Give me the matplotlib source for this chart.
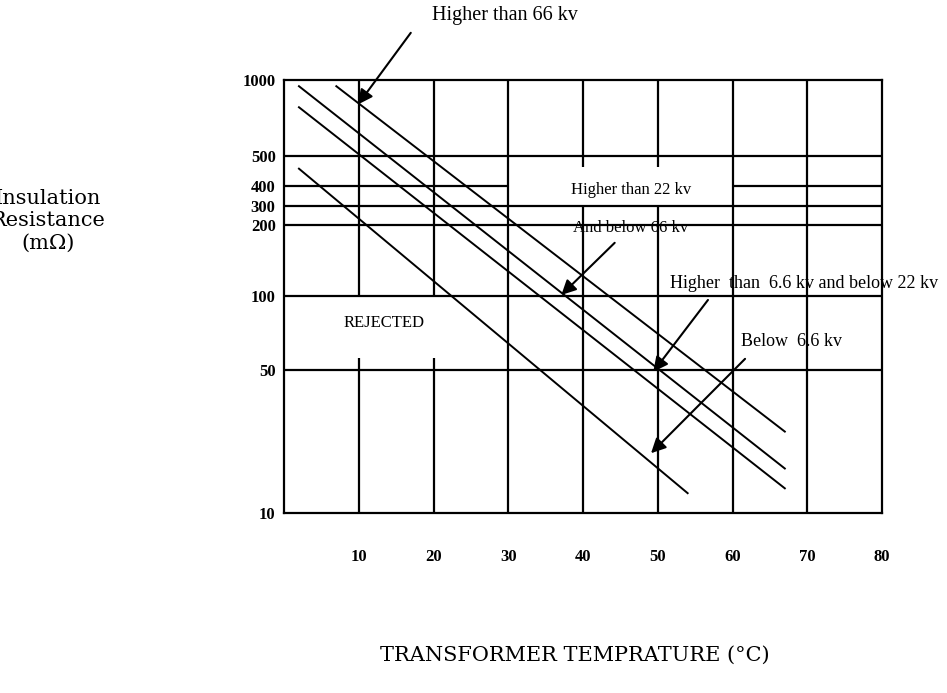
import numpy as np
import matplotlib.pyplot as plt
from matplotlib.ticker import FixedLocator, NullLocator

# Data
temp_ticks = [10, 20, 30, 40, 50, 60, 70, 80]
res_ticks = [10, 50, 100, 200, 300, 400, 500, 1000]

# the printed y axis is only roughly logarithmic: spacing of the printed grid (px from bottom)
scale_pos = [0, 143, 217, 288, 307, 327, 357, 433]

# the four limit lines (temperature in C, resistance in mOhm at both ends)
temp_66 = [7, 67]
res_66 = [945, 25]
temp_22_66 = [2, 67]
res_22_66 = [945, 16.5]
temp_66_22 = [2, 67]
res_66_22 = [780, 13.2]
temp_below = [2, 54]
res_below = [455, 12.5]

# partial grid lines: (value, [(start, end), ...])
vgrid = [
    (10, [(10, 56), (100, 1000)]),
    (20, [(10, 56), (100, 1000)]),
    (30, [(10, 1000)]),
    (40, [(10, 300), (460, 1000)]),
    (50, [(10, 300), (460, 1000)]),
    (60, [(10, 1000)]),
    (70, [(10, 1000)]),
]
hgrid = [
    (500, [(0, 80)]),
    (400, [(0, 30), (60, 80)]),
    (300, [(0, 80)]),
    (200, [(0, 80)]),
    (100, [(0, 80)]),
    (50, [(0, 80)]),
]

lg = np.log10(res_ticks)
pos = np.array(scale_pos, float)


def forward(v):
    lv = np.log10(np.maximum(np.asarray(v, float), 1e-9))
    out = np.interp(lv, lg, pos)
    lo_slope = (pos[1] - pos[0]) / (lg[1] - lg[0])
    hi_slope = (pos[-1] - pos[-2]) / (lg[-1] - lg[-2])
    out = np.where(lv < lg[0], pos[0] + (lv - lg[0]) * lo_slope, out)
    out = np.where(lv > lg[-1], pos[-1] + (lv - lg[-1]) * hi_slope, out)
    return out


def inverse(p):
    p = np.asarray(p, float)
    out = np.interp(p, pos, lg)
    lo_slope = (lg[1] - lg[0]) / (pos[1] - pos[0])
    hi_slope = (lg[-1] - lg[-2]) / (pos[-1] - pos[-2])
    out = np.where(p < pos[0], lg[0] + (p - pos[0]) * lo_slope, out)
    out = np.where(p > pos[-1], lg[-1] + (p - pos[-1]) * hi_slope, out)
    return 10 ** out


serif = 'Liberation Serif'

fig = plt.figure(figsize=(9.47, 6.93), dpi=100)
ax = fig.add_axes([284 / 947, 1 - 513 / 693, 598 / 947, 433 / 693])
ax.set_yscale('function', functions=(forward, inverse))
ax.set_xlim(0, 80)
ax.set_ylim(10, 1000)

# grid
for x, spans in vgrid:
    for y0, y1 in spans:
        ax.vlines(x, y0, y1, color='black', lw=1.6)
for y, spans in hgrid:
    for x0, x1 in spans:
        ax.hlines(y, x0, x1, color='black', lw=1.6)

# limit lines
for t, r in [(temp_66, res_66), (temp_22_66, res_22_66),
             (temp_66_22, res_66_22), (temp_below, res_below)]:
    ax.plot(t, r, color='black', lw=1.4)

for s in ax.spines.values():
    s.set_linewidth(1.6)

ax.xaxis.set_major_locator(FixedLocator(temp_ticks))
ax.yaxis.set_major_locator(FixedLocator(res_ticks))
ax.yaxis.set_minor_locator(NullLocator())
ax.xaxis.set_minor_locator(NullLocator())
ax.set_xticklabels([str(t) for t in temp_ticks], family=serif, fontsize=12, fontweight='bold')
ax.set_yticklabels([str(r) for r in res_ticks], family=serif, fontsize=12, fontweight='bold')
ax.tick_params(axis='x', length=0, pad=26)
ax.tick_params(axis='y', length=0, pad=6)

# arrows: head on the line (data), tail in axes fraction
arrow = dict(arrowstyle='-|>', color='black', lw=1.5, mutation_scale=22,
             shrinkA=0, shrinkB=0)
ax.annotate('', xy=(9.9, 800), xycoords='data', xytext=(0.212, 1.109),
            textcoords='axes fraction', arrowprops=arrow, annotation_clip=False)
ax.annotate('', xy=(37.1, 101), xycoords='data', xytext=(0.553, 0.624),
            textcoords='axes fraction', arrowprops=arrow)
ax.annotate('', xy=(49.4, 49), xycoords='data', xytext=(0.709, 0.492),
            textcoords='axes fraction', arrowprops=arrow)
ax.annotate('', xy=(49.1, 19.6), xycoords='data', xytext=(0.771, 0.356),
            textcoords='axes fraction', arrowprops=arrow)

txt = dict(transform=ax.transAxes, ha='center', va='center', family=serif,
           clip_on=False)
ax.text(0.370, 1.150, 'Higher than 66 kv', fontsize=14.5, **txt)
ax.text(0.580, 0.746, 'Higher than 22 kv', fontsize=12, **txt)
ax.text(0.579, 0.658, 'And below 66 kv', fontsize=12, **txt)
ax.text(0.870, 0.531, 'Higher  than  6.6 kv and below 22 kv', fontsize=13, **txt)
ax.text(0.848, 0.395, 'Below  6.6 kv', fontsize=13, **txt)
ax.text(0.167, 0.439, 'REJECTED', fontsize=12, **txt)

# axis titles
fig.text(48 / 947, 1 - 221 / 693, 'Insulation\nResistance\n(m\u03a9)', ha='center',
         va='center', family='DejaVu Serif', fontsize=15, linespacing=1.25)
fig.text(575 / 947, 1 - 655 / 693, 'TRANSFORMER TEMPRATURE (\u00b0C)', ha='center',
         va='center', family='DejaVu Serif', fontsize=15)

fig.savefig('out.png', dpi=100)
